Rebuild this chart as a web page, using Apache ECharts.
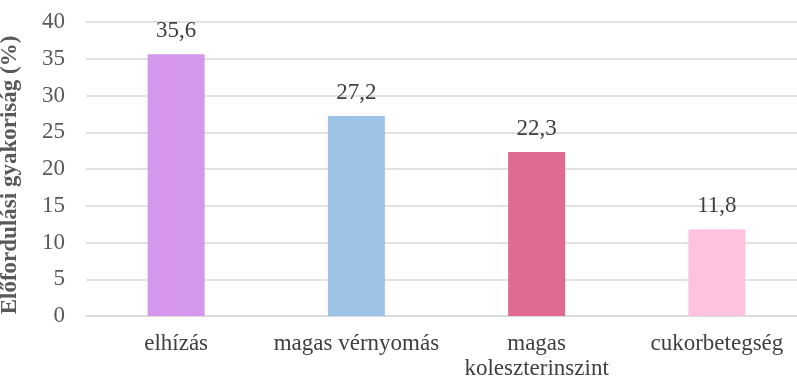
<!DOCTYPE html>
<html>
<head>
<meta charset="utf-8">
<script src="https://cdn.jsdelivr.net/npm/echarts@6/dist/echarts.min.js"></script>
<style>
  html, body { margin: 0; padding: 0; background: #fff; }
  #chart { width: 797px; height: 380px; }
</style>
</head>
<body>
<div id="chart"></div>
<script>
// data
var categories = ['elhízás', 'magas vérnyomás', 'magas\nkoleszterinszint', 'cukorbetegség'];
var values = [35.6, 27.2, 22.3, 11.8];
var barColors = ['#d597eb', '#9dc3e6', '#e06a90', '#ffc3e1'];
var yTitle = 'Előfordulási gyakoriság (%)';

var font = '"Liberation Serif", "Times New Roman", serif';

var chart = echarts.init(document.getElementById('chart'));

chart.setOption({
    animation: false,
    backgroundColor: '#ffffff',
    textStyle: { fontFamily: font },
    grid: {
        left: 86,
        right: -10,
        top: 22,
        bottom: 64,
        containLabel: false,
        outerBoundsMode: 'none'
    },
    xAxis: {
        type: 'category',
        data: categories,
        axisTick: { show: false },
        axisLine: { lineStyle: { color: '#d9d9d9', width: 1.5 } },
        axisLabel: {
            color: '#404040',
            fontFamily: font,
            fontSize: 23,
            margin: 15,
            lineHeight: 25,
            interval: 0
        }
    },
    yAxis: {
        type: 'value',
        min: 0,
        max: 40,
        interval: 5,
        name: yTitle,
        nameLocation: 'middle',
        nameGap: 64,
        nameTextStyle: {
            color: '#595959',
            fontFamily: font,
            fontSize: 23,
            fontWeight: 'bold',
            padding: [0, 12, 0, 0]
        },
        axisLine: { show: false },
        axisTick: { show: false },
        axisLabel: {
            color: '#595959',
            fontFamily: font,
            fontSize: 23,
            margin: 21
        },
        splitLine: { lineStyle: { color: '#d9d9d9', width: 1.5 } }
    },
    series: [{
        type: 'bar',
        barWidth: 57,
        data: values.map(function (v, i) {
            return { value: v, itemStyle: { color: barColors[i] } };
        }),
        label: {
            show: true,
            position: 'top',
            distance: 12,
            color: '#404040',
            fontFamily: font,
            fontSize: 23,
            formatter: function (p) {
                return String(p.value).replace('.', ',');
            }
        }
    }]
});
</script>
</body>
</html>
